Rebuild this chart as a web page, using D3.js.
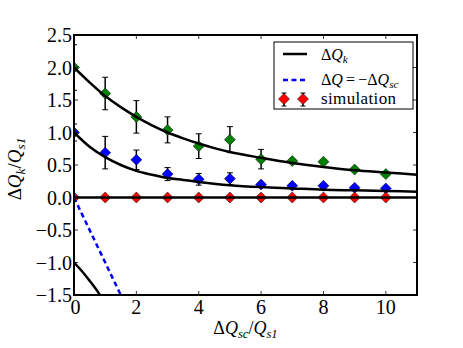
<!DOCTYPE html>
<html><head><meta charset="utf-8">
<script src="https://cdn.jsdelivr.net/npm/d3@7"></script>
<style>
body{margin:0;background:#fff;}
svg{display:block;}
svg text{font-family:"Liberation Serif","Times New Roman","DejaVu Serif",Times,serif;}
</style></head>
<body><svg id="c" width="463" height="348" font-family="Liberation Serif, DejaVu Serif, serif"></svg>
<script>
// ---- data ----
const simX = [0,1,2,3,4,5,6,7,8,9,10];
const greenY   = [2.0,1.6,1.24,1.04,0.79,0.89,0.59,0.56,0.55,0.43,0.36];
const greenErr = [0.35,0.25,0.25,0.2,0.19,0.2,0.15,0.03,0.03,0.03,0.03];
const blueY    = [1.0,0.69,0.58,0.36,0.28,0.29,0.2,0.18,0.18,0.15,0.14];
const blueErr  = [0.13,0.25,0.15,0.1,0.09,0.09,0.03,0.03,0.03,0.03,0.03];
const redY     = [0,0,0,0,0,0,0,0,0,0,0];
const redErr   = [0.02,0.02,0.02,0.02,0.02,0.02,0.02,0.02,0.02,0.02,0.02];
// theory curves
const curveAX = [0,0.5,1,1.5,2,2.5,3,3.5,4,4.5,5,6,7,8,9,10,11];
const curveAY = [2.0,1.77,1.56,1.39,1.24,1.11,1.0,0.91,0.83,0.76,0.70,0.61,0.53,0.47,0.42,0.385,0.35];
const curveBX = [0,0.5,1,1.5,2,2.5,3,3.5,4,5,6,7,8,9,10,11];
const curveBY = [1.0,0.78,0.62,0.5,0.41,0.35,0.30,0.27,0.24,0.19,0.16,0.14,0.12,0.11,0.10,0.09];
const curveCX = [0,0.25,0.5,0.75,0.9];
const curveCY = [-1.0,-1.13,-1.28,-1.44,-1.55];
const curveZX = [0,11];
const curveZY = [0,0];
const dashX = [0,1.7];
const dashY = [0,-1.7];
const xTicks = [0,2,4,6,8,10];
const yTicks = [-1.5,-1.0,-0.5,0.0,0.5,1.0,1.5,2.0,2.5];

const svg = d3.select("#c");
const L=74,R=417,T=35,B=295;
const x = d3.scaleLinear().domain([0,11]).range([L,R]);
const y = d3.scaleLinear().domain([-1.5,2.5]).range([B,T]);

svg.append("defs").append("clipPath").attr("id","clip")
  .append("rect").attr("x",L).attr("y",T).attr("width",R-L).attr("height",B-T);
const plot = svg.append("g").attr("clip-path","url(#clip)");

function diamond(g,cx,cy,color){
  const r=5.5;
  g.append("path").attr("d",`M${cx},${cy-r}L${cx+r},${cy}L${cx},${cy+r}L${cx-r},${cy}Z`)
    .attr("fill",color).attr("stroke","#000").attr("stroke-width",0.5);
}
function series(vals,errs,color){
  const g = plot.append("g");
  simX.forEach((xv,i)=>{
    const cx=x(xv), y1=y(vals[i]+errs[i]), y2=y(vals[i]-errs[i]);
    g.append("line").attr("x1",cx).attr("x2",cx).attr("y1",y1).attr("y2",y2)
      .attr("stroke","#000").attr("stroke-width",1.5);
    [y1,y2].forEach(yy=>g.append("line").attr("x1",cx-3).attr("x2",cx+3).attr("y1",yy).attr("y2",yy)
      .attr("stroke","#000").attr("stroke-width",1));
  });
  simX.forEach((xv,i)=>diamond(g,x(xv),y(vals[i]),color));
}
series(greenY,greenErr,"#008000");
series(blueY,blueErr,"#0000ff");
series(redY,redErr,"#ff0000");

const line = d3.line().x(d=>x(d[0])).y(d=>y(d[1])).curve(d3.curveMonotoneX);
function curve(xs,ys){
  plot.append("path").datum(xs.map((v,i)=>[v,ys[i]])).attr("d",line)
    .attr("fill","none").attr("stroke","#000").attr("stroke-width",2.5);
}
curve(curveAX,curveAY);
curve(curveBX,curveBY);
curve(curveCX,curveCY);
curve(curveZX,curveZY);
plot.append("path").datum(dashX.map((v,i)=>[v,dashY[i]])).attr("d",d3.line().x(d=>x(d[0])).y(d=>y(d[1])))
  .attr("fill","none").attr("stroke","#0000ff").attr("stroke-width",2.5).attr("stroke-dasharray","5,3.5");

// ticks (inward, all four sides)
const tk = svg.append("g").attr("stroke","#000").attr("stroke-width",0.8);
xTicks.forEach(v=>{
  tk.append("line").attr("x1",x(v)).attr("x2",x(v)).attr("y1",B).attr("y2",B-4);
  tk.append("line").attr("x1",x(v)).attr("x2",x(v)).attr("y1",T).attr("y2",T+4);
});
yTicks.forEach(v=>{
  tk.append("line").attr("x1",L).attr("x2",L+4).attr("y1",y(v)).attr("y2",y(v));
  tk.append("line").attr("x1",R).attr("x2",R-4).attr("y1",y(v)).attr("y2",y(v));
});
svg.append("rect").attr("x",L).attr("y",T).attr("width",R-L).attr("height",B-T)
  .attr("fill","none").attr("stroke","#000").attr("stroke-width",2);

// tick labels
const fmt = v => (v<0?"\u2212":"")+Math.abs(v).toFixed(1);
svg.append("g").selectAll("text").data(yTicks).join("text")
  .attr("x",L-2).attr("y",d=>y(d)+7).attr("text-anchor","end")
  .attr("font-size",20).text(fmt);
svg.append("g").selectAll("text").data(xTicks).join("text")
  .attr("x",d=>x(d)+(d===0?1.5:0)).attr("y",314).attr("text-anchor","middle")
  .attr("font-size",20).text(d=>d);

// math label helper
function mathText(t,parts,size){
  parts.forEach(p=>{
    const s = t.append("tspan").text(p.t);
    if(p.i) s.attr("font-style","italic");
    if(p.sub){ s.attr("font-size",size*0.7).attr("dy",size*0.2); }
    if(p.up){ s.attr("dy",-size*0.2); }
  });
}
const xl = svg.append("text").attr("x",(L+R)/2).attr("y",334).attr("text-anchor","middle").attr("font-size",18);
mathText(xl,[{t:"Δ"},{t:"Q",i:1},{t:"sc",i:1,sub:1},{t:"/",up:1},{t:"Q",i:1},{t:"s1",i:1,sub:1}],18);
const yl = svg.append("text").attr("transform","translate(21,169) rotate(-90)").attr("text-anchor","middle").attr("font-size",19);
mathText(yl,[{t:"Δ"},{t:"Q",i:1},{t:"k",i:1,sub:1},{t:"/",up:1},{t:"Q",i:1},{t:"s1",i:1,sub:1}],19);

// legend
const lg = svg.append("g");
lg.append("rect").attr("x",274).attr("y",42).attr("width",139).attr("height",67)
  .attr("fill","#fff").attr("stroke","#000").attr("stroke-width",1);
lg.append("line").attr("x1",283).attr("x2",307).attr("y1",54).attr("y2",54)
  .attr("stroke","#000").attr("stroke-width",2.5);
lg.append("line").attr("x1",283).attr("x2",307).attr("y1",80).attr("y2",80)
  .attr("stroke","#0000ff").attr("stroke-width",2.5).attr("stroke-dasharray","5,3.5");
[284,303].forEach(cx=>{
  lg.append("line").attr("x1",cx).attr("x2",cx).attr("y1",93).attr("y2",106).attr("stroke","#000").attr("stroke-width",1.5);
  [93,106].forEach(yy=>lg.append("line").attr("x1",cx-2.5).attr("x2",cx+2.5).attr("y1",yy).attr("y2",yy).attr("stroke","#000"));
  diamond(lg,cx,99,"#ff0000");
});
const t1 = lg.append("text").attr("x",321).attr("y",60).attr("font-size",16);
mathText(t1,[{t:"Δ"},{t:"Q",i:1},{t:"k",i:1,sub:1}],16);
const t2 = lg.append("text").attr("x",321).attr("y",85).attr("font-size",16);
mathText(t2,[{t:"Δ"},{t:"Q",i:1},{t:"\u2009=\u2009\u2212Δ"},{t:"Q",i:1},{t:"sc",i:1,sub:1}],16);
lg.append("text").attr("x",321).attr("y",104).attr("font-size",17).attr("textLength",75).text("simulation");
</script></body></html>
